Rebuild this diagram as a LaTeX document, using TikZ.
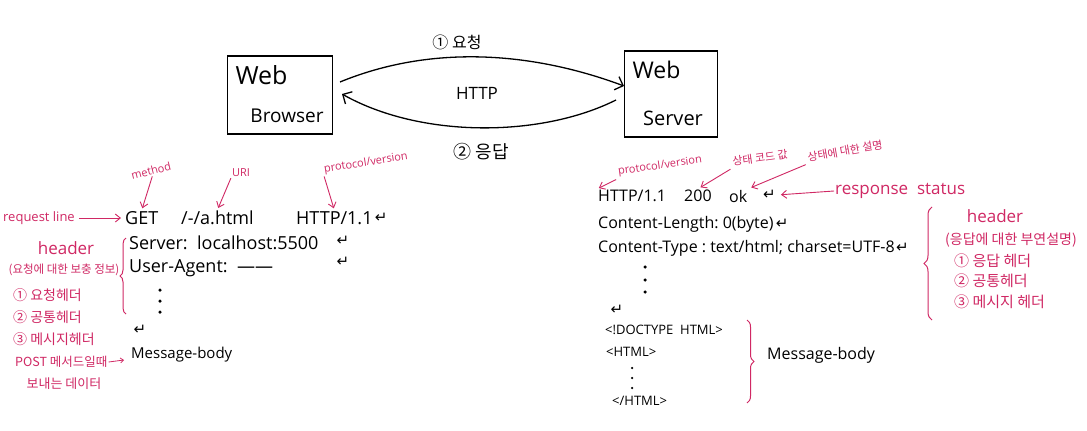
\documentclass[tikz,border=0pt]{standalone}
\usepackage{fontspec}
\setmainfont{Open Sans}
\newfontfamily\kr{Noto Sans CJK KR}
\newfontfamily\symf{DejaVu Sans}
\usetikzlibrary{arrows.meta,decorations.pathreplacing}
\definecolor{pinkc}{RGB}{208,40,100}
\tikzset{
  txt/.style={anchor=west,inner sep=1pt,font=\fontsize{18}{21}\selectfont},
  rtxt/.style={anchor=west,inner sep=1pt,font=\fontsize{16}{19}\selectfont},
  htxt/.style={anchor=west,inner sep=1pt,font=\fontsize{13}{15}\selectfont},
  plab/.style={text=pinkc,inner sep=1pt,font=\fontsize{11}{13}\selectfont},
  pkr/.style={text=pinkc,inner sep=1pt,font=\kr\fontsize{14}{16}\selectfont},
  parrow/.style={draw=pinkc,line width=0.9pt,-{Straight Barb[length=5pt,width=8pt]}},
  flow/.style={line width=1.3pt,-{Straight Barb[length=7pt,width=14pt]}},
  boxs/.style={draw,line width=1.4pt,minimum width=105pt,minimum height=78pt},
  pbrace/.style={draw=pinkc,line width=1pt,decorate,decoration={brace,amplitude=7pt}},
  enter/.style={inner sep=1pt,font=\symf\fontsize{15}{17}\selectfont},
  dotc/.style={fill,circle,inner sep=0pt,minimum size=3.5pt}
}
\begin{document}
\begin{tikzpicture}[x=1pt,y=-1pt]
\useasboundingbox[fill=white] (0,0) rectangle (1087,431);

% boxes
\node[boxs] (browser) at (280,95) {};
\node[anchor=west,font=\fontsize{25}{27}\selectfont] (bweb) at (232,75) {Web};
\node[font=\fontsize{19}{21}\selectfont] (bname) at (287,116) {Browser};
\node[boxs,minimum width=93pt,minimum height=86pt] (server) at (671,94) {};
\node[anchor=west,font=\fontsize{23}{25}\selectfont] (sweb) at (629,70) {Web};
\node[font=\fontsize{20}{22}\selectfont] (sname) at (673,118) {Server};

\coordinate (bt) at (340,82);
\coordinate (st) at (624,86);
\coordinate (sb) at (616,100);
\coordinate (bb) at (342,94);
\draw[flow] (bt) .. controls (430,45) and (530,51) .. (st);
\draw[flow] (sb) .. controls (540,138) and (420,138) .. (bb);
\node[font=\kr\fontsize{16}{18}\selectfont] (req) at (457,42) {① 요청};
\node[font=\fontsize{17}{19}\selectfont] (http) at (477,93) {HTTP};
\node[font=\kr\fontsize{18}{20}\selectfont] (res) at (481,152) {② 응답};

% request
\node[txt] (get) at (124,218) {GET};
\node[txt] (uri) at (180,218) {/-/a.html};
\node[txt] (proto) at (295,218) {HTTP/1.1};
\node[enter,anchor=west] (e1) at (proto.east) {↵};
\node[txt] (srv) at (128,243) {Server:\ \ localhost:5500};
\node[enter] (e2) at (343,241) {↵};
\node[enter] (e3) at (343,262) {↵};
\node[txt] (ua) at (128,268) {User-Agent:\ \ ——};
\node[dotc] (d1) at (160,290) {};
\node[dotc] (d2) at (160,301) {};
\node[dotc] (d3) at (160,312) {};
\node[enter] (e4) at (140,330) {↵};
\node[txt,font=\fontsize{15}{18}\selectfont] (mb1) at (130,355) {Message-body};

\node[plab,rotate=14] (lmethod) at (151,171) {method};
\node[plab] (luri) at (241,173) {URI};
\node[plab,rotate=9] (lproto) at (366,163) {protocol/version};
\node[plab,anchor=west,font=\fontsize{13}{15}\selectfont] (lreq) at (2,218) {request line};
\draw[parrow,shorten >=2pt] (lmethod.south) -- (get.north);
\draw[parrow,shorten >=2pt] (luri.south west) -- (uri.north);
\draw[parrow,shorten >=2pt] (lproto.south west) -- (proto.north);
\draw[parrow,shorten >=3pt,shorten <=3pt] (lreq.east) -- (get.west);

\node[plab,font=\fontsize{17}{19}\selectfont] (lhead) at (66,248) {header};
\node[pkr,font=\kr\fontsize{11.5}{13}\selectfont] (lhsub) at (64,270) {(요청에 대한 보충 정보)};
\node[pkr,anchor=west] (lh1) at (12,295) {① 요청헤더};
\node[pkr,anchor=west] (lh2) at (12,317) {② 공통헤더};
\node[pkr,anchor=west] (lh3) at (12,339) {③ 메시지헤더};
\node[pkr,anchor=west,font=\kr\fontsize{12.5}{14}\selectfont] (lpost) at (14,362) {POST 메서드일때};
\coordinate (lpostend) at (124,360);
\draw[draw=pinkc,line width=0.8pt,-{Straight Barb[length=3pt,width=5pt]}] (lpost.east) -- (lpostend);
\node[pkr,font=\kr\fontsize{13}{15}\selectfont] (lpost2) at (64,384) {보내는 데이터};
\draw[pbrace,decoration={amplitude=6pt}] (126,314) -- (126,238);

% response
\node[rtxt] (rproto) at (597,196) {HTTP/1.1};
\node[rtxt] (rcode) at (683,196) {200};
\node[rtxt] (rok) at (728,196) {ok};
\node[enter,anchor=west] (e5) at (762,195) {↵};
\node[rtxt] (clen) at (597,224) {Content-Length:\ 0(byte)};
\node[enter,anchor=west] (e6) at (clen.east) {↵};
\node[rtxt] (ctype) at (597,248) {Content-Type\ :\ text/html;\ charset=UTF-8};
\node[enter,anchor=west,inner sep=0pt] (e7) at (ctype.east) {↵};
\node[dotc] (d4) at (645,267) {};
\node[dotc] (d5) at (645,280) {};
\node[dotc] (d6) at (645,292) {};
\node[enter] (e8) at (617,310) {↵};
\node[htxt] (doct) at (604,330) {<!DOCTYPE\ \ HTML>};
\node[htxt] (hopen) at (605,352) {<HTML>};
\node[dotc,minimum size=2.5pt] (d7) at (632,368) {};
\node[dotc,minimum size=2.5pt] (d8) at (632,378) {};
\node[dotc,minimum size=2.5pt] (d9) at (632,388) {};
\node[htxt] (hclose) at (611,401) {</HTML>};
\draw[pbrace] (747,320) -- (747,403);
\node[txt,font=\fontsize{16}{18}\selectfont] (mb2) at (766,355) {Message-body};

\node[plab,rotate=8] (rlproto) at (660,166) {protocol/version};
\node[pkr,font=\kr\fontsize{11}{13}\selectfont,rotate=8] (rlcode) at (760,158) {상태\ 코드\ 값};
\node[pkr,font=\kr\fontsize{11}{13}\selectfont,rotate=10] (rldesc) at (845,151) {상태에 대한 설명};
\draw[parrow,shorten >=2pt,shorten <=2pt] (rlproto.south west) -- (rproto.north west);
\draw[parrow,shorten >=3pt,shorten <=2pt] (rlcode.south west) -- (rcode.north);
\draw[parrow,shorten >=3pt,shorten <=2pt] (rldesc.south west) -- (rok.north east);
\node[plab,anchor=west,font=\fontsize{17}{19}\selectfont] (rstat) at (834,191) {response\ \ status};
\draw[parrow,shorten >=4pt] (rstat.west) -- (e5.east);

\draw[pbrace,decoration={amplitude=8pt}] (932,320) -- (932,207);
\node[plab,font=\fontsize{17}{19}\selectfont] (rhead) at (995,216) {header};
\node[pkr,font=\kr\fontsize{14}{16}\selectfont] (rhsub) at (1011,240) {(응답에 대한 부연설명)};
\node[pkr,anchor=west,font=\kr\fontsize{15}{17}\selectfont] (rh1) at (953,261) {① 응답 헤더};
\node[pkr,anchor=west,font=\kr\fontsize{15}{17}\selectfont] (rh2) at (953,281) {② 공통헤더};
\node[pkr,anchor=west,font=\kr\fontsize{15}{17}\selectfont] (rh3) at (953,302) {③ 메시지 헤더};
\end{tikzpicture}
\end{document}
